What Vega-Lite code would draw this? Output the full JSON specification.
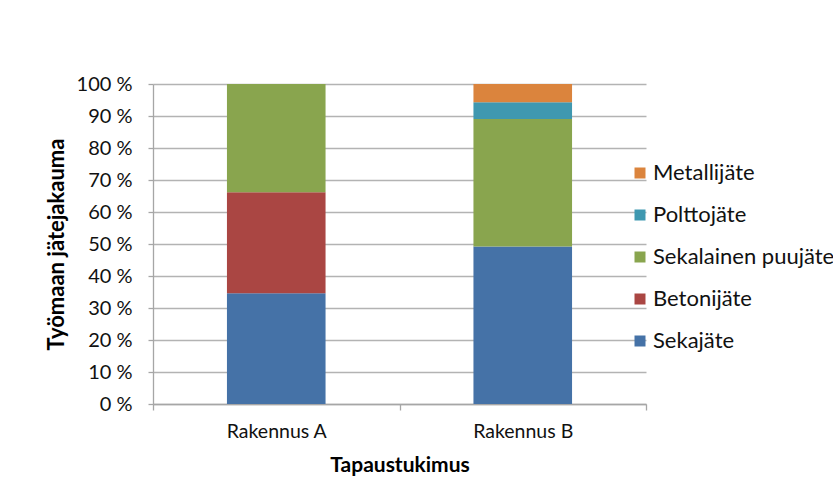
{
  "$schema": "https://vega.github.io/schema/vega-lite/v6.json",
  "autosize": {"type": "none"},
  "width": 493,
  "height": 320,
  "padding": {"left": 153, "top": 84, "right": 187, "bottom": 98},
  "background": "white",
  "data": {
    "values": [
      {"rakennus": "Rakennus A", "jae": "Sekajäte", "nro": 1, "osuus": 34.6},
      {"rakennus": "Rakennus A", "jae": "Betonijäte", "nro": 2, "osuus": 31.6},
      {"rakennus": "Rakennus A", "jae": "Sekalainen puujäte", "nro": 3, "osuus": 33.8},
      {"rakennus": "Rakennus B", "jae": "Sekajäte", "nro": 1, "osuus": 49.2},
      {"rakennus": "Rakennus B", "jae": "Sekalainen puujäte", "nro": 3, "osuus": 39.9},
      {"rakennus": "Rakennus B", "jae": "Polttojäte", "nro": 4, "osuus": 5.2},
      {"rakennus": "Rakennus B", "jae": "Metallijäte", "nro": 5, "osuus": 5.7}
    ]
  },
  "mark": {"type": "bar", "width": {"band": 0.4}},
  "encoding": {
    "x": {
      "field": "rakennus",
      "type": "nominal",
      "scale": {"paddingInner": 0, "paddingOuter": 0},
      "axis": {
        "title": "Tapaustukimus",
        "labelAngle": 0,
        "labelFontSize": 19.5,
        "tickBand": "extent",
        "tickSize": 6,
        "labelPadding": 12,
        "titlePadding": 14,
        "titleFontSize": 21,
        "grid": false
      }
    },
    "y": {
      "field": "osuus",
      "type": "quantitative",
      "stack": "zero",
      "scale": {"domain": [0, 100], "nice": false},
      "axis": {
        "title": "Työmaan jätejakauma",
        "values": [0, 10, 20, 30, 40, 50, 60, 70, 80, 90, 100],
        "labelExpr": "datum.value + ' %'",
        "labelFontSize": 20,
        "tickSize": 5,
        "labelPadding": 16,
        "titlePadding": 8,
        "titleFontSize": 22
      }
    },
    "color": {
      "field": "jae",
      "type": "nominal",
      "scale": {
        "domain": ["Metallijäte", "Polttojäte", "Sekalainen puujäte", "Betonijäte", "Sekajäte"],
        "range": ["#db843d", "#3f98b0", "#89a54e", "#aa4643", "#4572a7"]
      },
      "legend": {
        "title": null,
        "orient": "none",
        "legendX": 476,
        "legendY": 78,
        "symbolType": "square",
        "symbolSize": 121,
        "symbolStrokeWidth": 0,
        "labelFontSize": 22,
        "labelFont": "Lato",
        "labelColor": "#111111",
        "labelOffset": 2,
        "rowPadding": 20,
        "labelLimit": 400
      }
    },
    "order": {"field": "nro", "type": "quantitative", "sort": "ascending"}
  },
  "config": {
    "view": {"stroke": null},
    "axis": {
      "labelFont": "Lato",
      "labelColor": "#111111",
      "titleFont": "Lato",
      "titleFontWeight": "bold",
      "titleColor": "#000000",
      "domainColor": "#a6a6a6",
      "tickColor": "#a6a6a6",
      "gridColor": "#b3b3b3",
      "domainWidth": 1.3,
      "tickWidth": 1.3,
      "gridWidth": 1.3
    }
  }
}
